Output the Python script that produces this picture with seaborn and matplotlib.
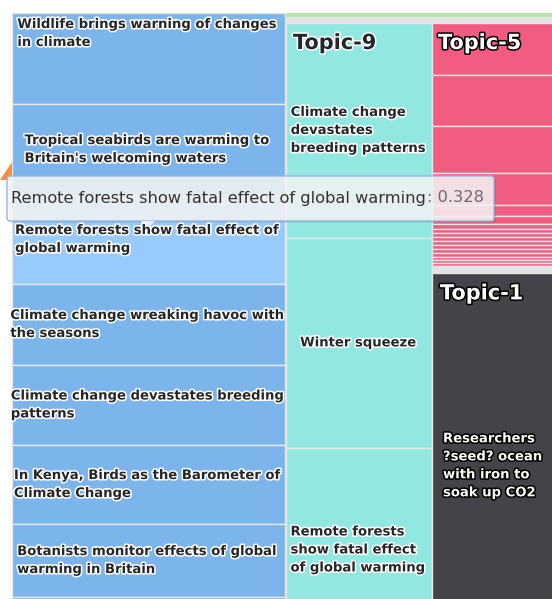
import numpy as np
import matplotlib.pyplot as plt
import matplotlib.patheffects as pe
from matplotlib.patches import FancyBboxPatch, Polygon
import seaborn as sns
sns.set_theme(style="white")
plt.rcParams['font.family'] = ['DejaVu Sans']

# news items per topic, score
news_titles = ["Wildlife brings warning of changes\nin climate",
               "Tropical seabirds are warming to\nBritain's welcoming waters",
               "Remote forests show fatal effect of\nglobal warming",
               "Climate change wreaking havoc with\nthe seasons",
               "Climate change devastates breeding\npatterns",
               "In Kenya, Birds as the Barometer of\nClimate Change",
               "Botanists monitor effects of global\nwarming in Britain",
               ""]
news_scores = [0.336, 0.336, 0.328, 0.299, 0.295, 0.292, 0.269, 0.26]

topic9_titles = ["Climate change\ndevastates\nbreeding patterns",
                 "Winter squeeze",
                 "Remote forests\nshow fatal effect\nof global warming"]
topic9_scores = [0.793, 0.775, 0.753]

topic5_scores = [0.192, 0.188, 0.173, 0.118, 0.041, 0.030, 0.018,
                 0.015, 0.015, 0.015, 0.015, 0.015, 0.015, 0.015,
                 0.011, 0.011, 0.011, 0.026]
topic1_titles = ["Researchers\n?seed? ocean\nwith iron to\nsoak up CO2"]
topic1_scores = [1.42]

hover_title = "Remote forests show fatal effect of global warming"
hover_score = 0.328

PX = 271  # pixels per score unit
blue, blue_hi, teal, pink, dark = '#7cb5ec', '#98cbfc', '#91e8e1', '#f15c80', '#434348'
LBL = dict(fontsize=9.5, fontweight='bold', linespacing=1.5, multialignment='left')

fig = plt.figure(figsize=(5.52, 5.99), dpi=100)
ax = fig.add_axes([0, 0, 1, 1])
ax.set_xlim(0, 552)
ax.set_ylim(599, 0)
ax.axis('off')

halo = [pe.withStroke(linewidth=2.2, foreground='white')]
halo_dark = [pe.withStroke(linewidth=2.2, foreground='black')]


def stack(x0, x1, y0, scores, colors):
    h = np.array(scores) * PX
    b = y0 + np.concatenate([[0], np.cumsum(h)[:-1]])
    ax.bar(x0, h, width=x1 - x0, bottom=b, align='edge', color=colors,
           edgecolor='#e6e6e6', linewidth=1)
    return b, h


# top strip of tiny topics
ax.bar(286, 4, width=270, bottom=13, align='edge', color='#b3e6a5', linewidth=0)
ax.bar(286, 6, width=270, bottom=17, align='edge', color='#e3e3e3', linewidth=0)

# left column (hovered topic)
cols = [blue] * len(news_scores)
cols[2] = blue_hi
b, h = stack(12, 285, 13, news_scores, cols)
for i, (t, yb, hh) in enumerate(zip(news_titles, b, h)):
    if i == 0:
        ax.text(148, yb + 5, t, ha='center', va='top', path_effects=halo, **LBL)
    else:
        ax.text(148, yb + hh / 2, t, ha='center', va='center', path_effects=halo, **LBL)

# Topic-9
b, h = stack(285.5, 431.5, 23, topic9_scores, teal)
for t, yb, hh in zip(topic9_titles, b, h):
    ax.text(358.5, yb + hh / 2, t, ha='center', va='center', path_effects=halo, **LBL)
ax.text(293, 33, "Topic-9", ha='left', va='top', fontsize=15, fontweight='bold',
        path_effects=halo)

# Topic-5 and Topic-1
b5, h5 = stack(431.5, 556, 23, topic5_scores, pink)
y1 = b5[-1] + h5[-1]
ax.patches[-1].set_facecolor('#e3e3e3')
b, h = stack(431.5, 556, y1, topic1_scores, dark)
ax.text(493, b[0] + h[0] / 2, topic1_titles[0], ha='center', va='center',
        color='white', path_effects=halo_dark, **LBL)
ax.text(438, 33, "Topic-5", ha='left', va='top', fontsize=15, fontweight='bold',
        color='white', path_effects=halo_dark)
ax.text(440, y1 + 10, "Topic-1", ha='left', va='top', fontsize=15, fontweight='bold',
        color='white', path_effects=halo_dark)

# orange edge of neighbouring pointer
ax.add_patch(Polygon([(0, 180), (12, 162), (12, 180)], closed=True,
                     color='#f28f43', lw=0))

# tooltip
ax.add_patch(FancyBboxPatch((9, 178), 487, 45, boxstyle="round,pad=0,rounding_size=3",
                            fc='black', ec='none', alpha=0.08))
ax.add_patch(FancyBboxPatch((7, 176), 487, 45, boxstyle="round,pad=0,rounding_size=3",
                            fc=(0.97, 0.97, 0.97, 0.85), ec='#8fb8e0', lw=1))
ax.add_patch(Polygon([(141, 221), (155, 221), (148, 228)], closed=True,
                     fc=(0.97, 0.97, 0.97, 0.85), ec='none'))
ax.text(11, 198, hover_title, ha='left', va='center', fontsize=11.7, color='#333333')
ax.text(484, 198, f": {hover_score}", ha='right', va='center', fontsize=11.7,
        color='#6b6b6b')

fig.savefig('out.png', dpi=100)
